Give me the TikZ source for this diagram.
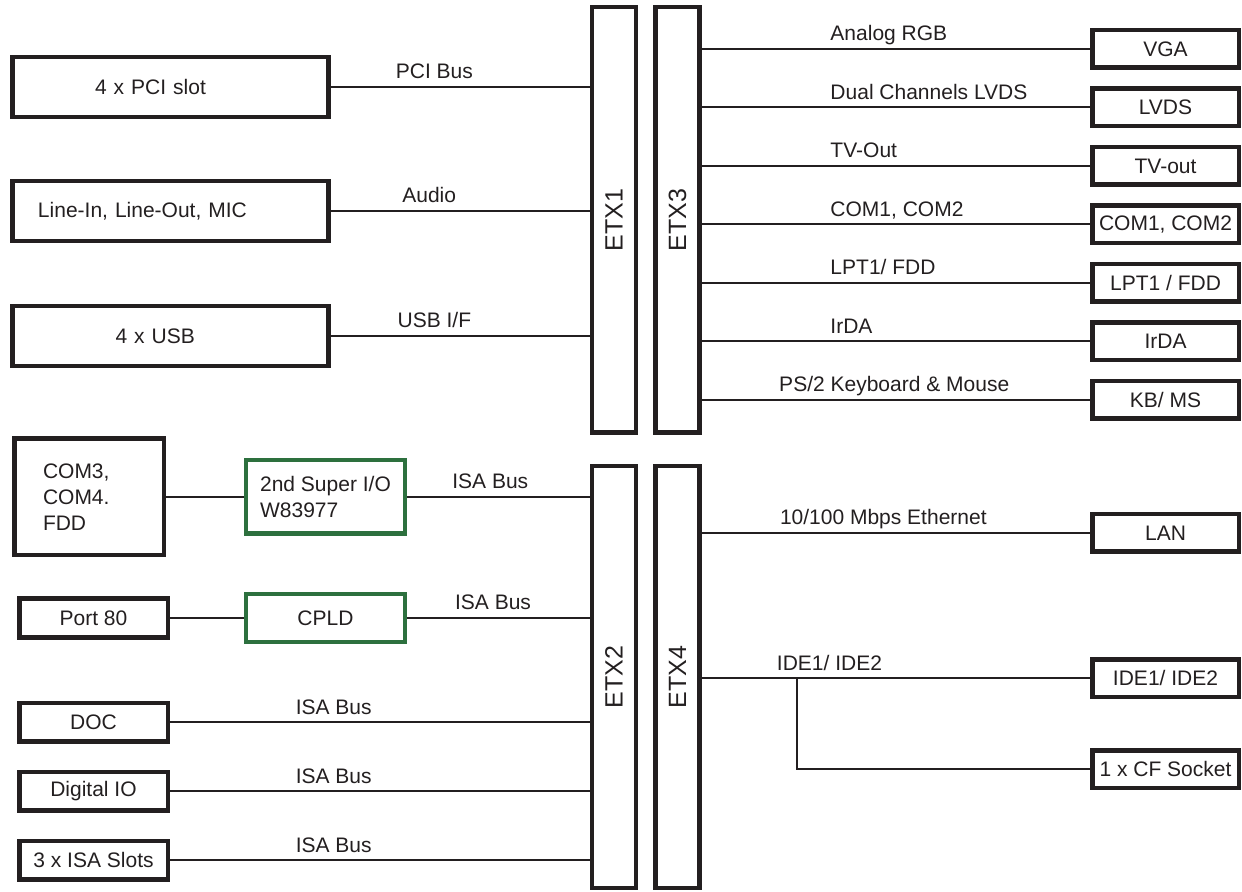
\documentclass[tikz,border=0pt]{standalone}
\usepackage{fontspec}
\setmainfont{Liberation Sans}
\usepackage{graphicx}
\usepackage{xcolor}
\usetikzlibrary{positioning}
\definecolor{ink}{RGB}{35,31,32}
\definecolor{chip}{RGB}{45,112,62}

\begin{document}
\begin{tikzpicture}[x=0.5pt, y=-0.5pt, color=ink, font=\fontsize{10.5}{13}\selectfont,
		block/.style={draw, rectangle, line width=2.25pt, inner sep=0pt},
		bar/.style={block, minimum width=22pt, font=\fontsize{12.5}{14}\selectfont},
		leftbox/.style={block, minimum width=158pt, minimum height=30pt, align=left},
		portbox/.style={block, minimum width=74.25pt, minimum height=19.25pt},
		outbox/.style={block, minimum width=73.25pt, minimum height=18.75pt},
		chipbox/.style={block, draw=chip, minimum width=79.5pt},
		bus/.style={line width=1pt},
		lbl/.style={anchor=base, yshift=4pt, inner sep=0pt}]
	\useasboundingbox (0,0) rectangle (1242,892);
	\node (etx1) [bar, minimum height=212.75pt] at (614,220) {\rotatebox{90}{ETX1}}
	node (etx3) [bar, minimum height=212.75pt] at (677.5,220) {\rotatebox{90}{ETX3}}
	node (etx2) [bar, minimum height=210.75pt] at (614,677) {\rotatebox{90}{ETX2}}
	node (etx4) [bar, minimum height=210.75pt] at (677.5,677) {\rotatebox{90}{ETX4}};
	
	\node (pci)   [leftbox, text width=75.5pt]  at (170.5,87)  {4 x PCI slot}
	node (audio)  [leftbox, text width=132.5pt] at (170.5,211) {Line-In, Line-Out, MIC}
	node (usb)    [leftbox, text width=55pt]    at (170.5,336) {4 x USB};
	\draw[bus] (pci) -- node[lbl, pos=.4] {PCI Bus} (pci -| etx1.west)
	(audio) -- node[lbl, pos=.38] {Audio} (audio -| etx1.west)
	(usb) -- node[lbl, pos=.4] {USB I/F} (usb -| etx1.west);
	
	\node (com34) [block, minimum width=74.75pt, minimum height=58.25pt, text width=46pt, align=left] at (89,497) {COM3,\\COM4.\\FDD}
	node (sio)    [chipbox, minimum height=36.75pt, align=left] at (325.5,497) {2nd Super I/O\\W83977}
	node (port80) [portbox] at (93.5,618) {Port 80}
	node (cpld)   [chipbox, minimum height=23.75pt] at (325.5,618) {CPLD}
	node (doc)    [portbox] at (93.5,722) {DOC}
	node (dio)    [portbox] at (93.5,791) {Digital IO}
	node (isa)    [portbox] at (93.5,860) {3 x ISA Slots};
	\draw[bus] (com34) -- (sio)
	(sio) -- node[lbl, pos=.455] {ISA Bus} (sio -| etx2.west)
	(port80) -- (cpld)
	(cpld) -- node[lbl, pos=.47] {ISA Bus} (cpld -| etx2.west);
	\foreach \X in {doc, dio, isa}
	\draw[bus] (\X) -- node[lbl, pos=.39] {ISA Bus} (\X -| etx2.west);
	
	\foreach \X/\T [count=\i from 0] in {vga/VGA, lvds/LVDS, tvout/TV-out, com12/{COM1, COM2}, lpt/{LPT1 / FDD}, irda/IrDA, kbms/{KB/ MS}}
	\node (\X) [outbox] at (1165.5,49+58.5*\i) {\T};
	\foreach \X/\L/\p in {vga/Analog RGB/.329, lvds/Dual Channels LVDS/.329, tvout/TV-Out/.329, com12/{COM1, COM2}/.329, lpt/{LPT1/ FDD}/.329, irda/IrDA/.329, kbms/{PS/2 Keyboard \& Mouse}/.197}
	\draw[bus] (\X -| etx3.east) -- node[lbl, anchor=base west, pos=\p] {\L} (\X);
	
	\node (lan) [outbox] at (1165.5,533) {LAN}
	node (ide)  [outbox] at (1165.5,678) {IDE1/ IDE2}
	node (cf)   [outbox] at (1165.5,769) {1 x CF Socket};
	\draw[bus] (lan -| etx4.east) -- node[lbl, anchor=base west, pos=.199] {10/100 Mbps Ethernet} (lan)
	(ide -| etx4.east) -- node[lbl, anchor=base west, pos=.191] {IDE1/ IDE2} coordinate[pos=.245] (tap) (ide)
	(tap) |- (cf);
\end{tikzpicture}
\end{document}
